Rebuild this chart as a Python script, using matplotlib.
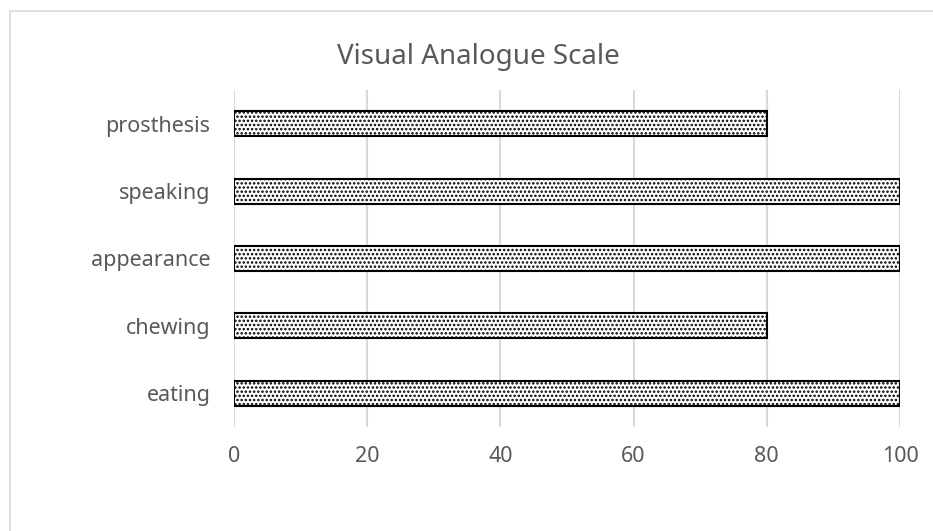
import matplotlib
matplotlib.use("Agg")
import matplotlib.pyplot as plt
from matplotlib.patches import Rectangle

plt.rcParams['font.family'] = ['Noto Sans', 'DejaVu Sans']
plt.rcParams['hatch.linewidth'] = 1.2

categories = ["eating", "chewing", "appearance", "speaking", "prosthesis"]
values = [100, 80, 100, 100, 80]
xticks = [0, 20, 40, 60, 80, 100]
title = "Visual Analogue Scale"

text_color = "#595959"
grid_color = "#d9d9d9"

fig = plt.figure(figsize=(9.33, 5.31), dpi=100)
fig.patches.append(Rectangle((10/933, -0.1), 1.2, 1 - 11/531 + 0.1, transform=fig.transFigure,
                             fill=False, edgecolor=grid_color, linewidth=1.2))
ax = fig.add_axes([234/933, 1 - 427/531, (900 - 234)/933, (427 - 90)/531])

y = list(range(len(categories)))
ax.barh(y, values, height=0.37, color="white", edgecolor="black", linewidth=1.5,
        hatch="....", zorder=3)

ax.set_xlim(0, 100)
ax.set_ylim(-0.5, len(categories) - 0.5)
ax.set_xticks(xticks)
ax.set_yticks(y)
ax.set_yticklabels(categories)
ax.xaxis.grid(True, color=grid_color, linewidth=1.5, zorder=0)
ax.set_axisbelow(True)
for s in ax.spines.values():
    s.set_visible(False)
ax.tick_params(axis='both', length=0, labelsize=15.5, colors=text_color)
ax.tick_params(axis='x', pad=14)
ax.tick_params(axis='y', pad=17)

fig.text(478/933, 1 - 57/531, title, ha='center', va='center', fontsize=20, color=text_color)

fig.savefig("out.png", dpi=100)
